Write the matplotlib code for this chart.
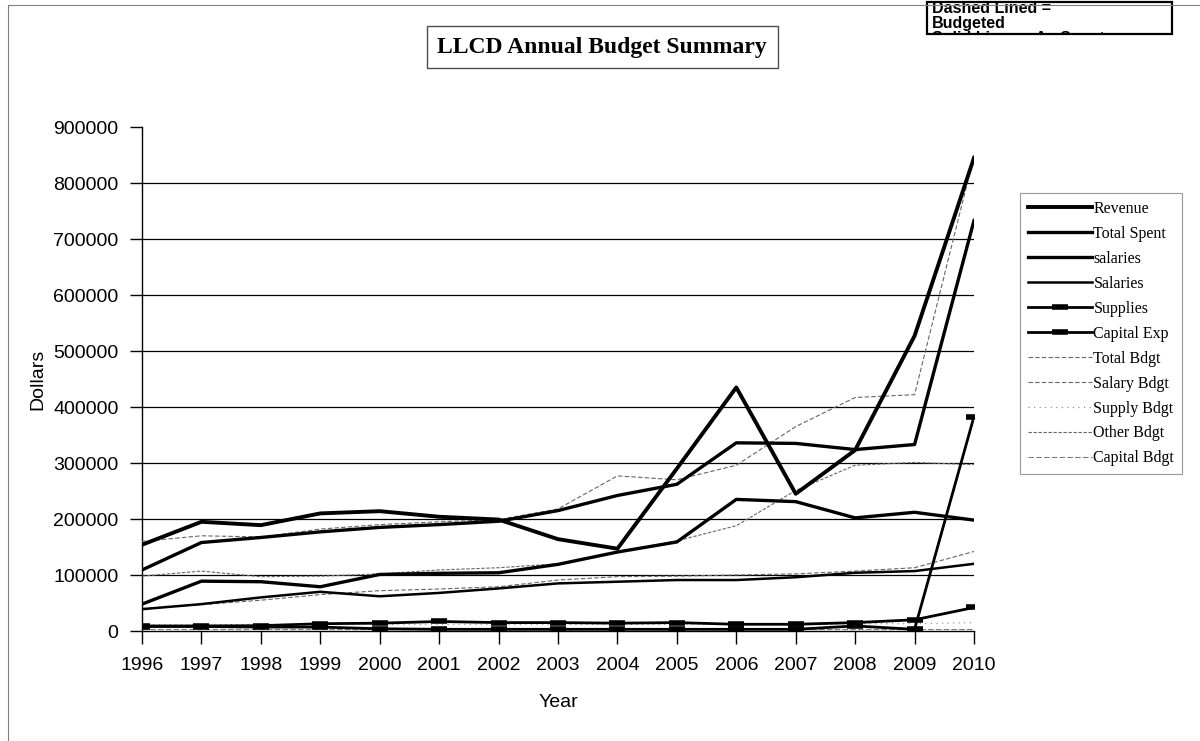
import matplotlib
matplotlib.use('Agg')
import matplotlib.pyplot as plt
from matplotlib.lines import Line2D
from matplotlib.patches import Rectangle

years = list(range(1996, 2011))
revenue = [154000, 195000, 189000, 210000, 214000, 204000, 199000, 164000,
           147000, 290000, 435000, 245000, 323000, 527000, 845000]
total_spent = [109000, 158000, 167000, 177000, 185000, 190000, 196000, 215000,
               242000, 262000, 336000, 335000, 324000, 333000, 733000]
salaries_lc = [48000, 89000, 88000, 79000, 101000, 103000, 104000, 119000,
               141000, 159000, 235000, 231000, 202000, 212000, 198000]
salaries = [39000, 48000, 60000, 70000, 62000, 68000, 76000, 85000,
            88000, 91000, 91000, 96000, 104000, 107000, 120000]
supplies = [9000, 9000, 9500, 13000, 14000, 17000, 15000, 15000,
            14000, 15000, 12000, 12000, 15000, 20000, 42000]
capital_exp = [8000, 8000, 7000, 7000, 4000, 3000, 3000, 3000,
               3000, 3000, 3000, 3000, 9000, 3000, 383000]

total_bdgt = [160000, 170000, 168000, 182000, 190000, 195000, 199000, 218000,
              277000, 270000, 296000, 365000, 417000, 422000, 848000]
salary_bdgt = [40000, 47000, 55000, 65000, 72000, 75000, 79000, 91000,
               97000, 98000, 100000, 102000, 107000, 113000, 142000]
supply_bdgt = [11000, 11000, 12000, 12000, 12000, 12000, 12000, 12000,
               12000, 12000, 12000, 12000, 13000, 13000, 15000]
other_bdgt = [98000, 107000, 97000, 98000, 102000, 109000, 113000, 120000,
              141000, 161000, 188000, 251000, 296000, 301000, 297000]
capital_bdgt = [3000, 3000, 3000, 3000, 3000, 3000, 3000, 3000,
                3000, 3000, 3000, 3000, 3000, 3000, 3000]

yticks = [0, 100000, 200000, 300000, 400000, 500000, 600000, 700000, 800000, 900000]

W, H = 1200, 741
fig = plt.figure(figsize=(12, 7.41), dpi=100)
ax = fig.add_axes([142 / W, 1 - 631 / H, 832 / W, 504 / H])

for v in yticks[1:-1]:
    ax.axhline(v, color='black', lw=0.9, zorder=1)

ax.plot(years, revenue, color='black', lw=2.8, label='Revenue', zorder=5)
ax.plot(years, total_spent, color='black', lw=2.4, label='Total Spent', zorder=5)
ax.plot(years, salaries_lc, color='black', lw=2.4, label='salaries', zorder=5)
ax.plot(years, salaries, color='black', lw=1.8, label='Salaries', zorder=5)
ax.plot(years, supplies, color='black', lw=2.0, marker='_', ms=11, mew=4,
        label='Supplies', zorder=5)
ax.plot(years, capital_exp, color='black', lw=2.0, marker='_', ms=11, mew=4,
        label='Capital Exp', zorder=5)

ax.plot(years, total_bdgt, color='0.4', lw=0.8, ls=(0, (4, 2)), label='Total Bdgt', zorder=4)
ax.plot(years, salary_bdgt, color='0.4', lw=0.8, ls=(0, (4, 2)), label='Salary Bdgt', zorder=4)
ax.plot(years, supply_bdgt, color='0.5', lw=0.8, ls=(0, (1, 4)), label='Supply Bdgt', zorder=4)
ax.plot(years, other_bdgt, color='0.4', lw=0.8, ls=(0, (3, 1.5)), label='Other Bdgt', zorder=4)
ax.plot(years, capital_bdgt, color='0.5', lw=0.8, ls=(0, (5, 2)), label='Capital Bdgt', zorder=4)

ax.set_xlim(1996, 2010)
ax.set_ylim(0, 900000)
ax.set_xticks(years)
ax.set_xticklabels([str(y) for y in years])
ax.set_yticks(yticks)
ax.set_yticklabels([str(v) for v in yticks])
for s in ['top', 'right']:
    ax.spines[s].set_visible(False)
ax.spines['left'].set_linewidth(1)
ax.spines['bottom'].set_linewidth(1)
ax.tick_params(axis='both', direction='out', length=9, width=1, labelsize=14)
ax.tick_params(axis='x', pad=10)
ax.tick_params(axis='y', pad=8)
for lbl in ax.get_xticklabels() + ax.get_yticklabels():
    lbl.set_family('Liberation Sans')
ax.set_xlabel('Year', family='Liberation Sans', fontsize=14, labelpad=14)
ax.set_ylabel('Dollars', family='Liberation Sans', fontsize=14, labelpad=5)

leg = ax.legend(loc='upper left', bbox_to_anchor=(1020 / W, 1 - 193 / H),
                bbox_transform=fig.transFigure, prop={'family': 'Liberation Serif', 'size': 11.5},
                frameon=True, fancybox=False, edgecolor='0.5', handlelength=4.0,
                handletextpad=0.1, labelspacing=0.56, borderpad=0.5, borderaxespad=0)
leg.get_frame().set_linewidth(0.8)

fig.text(602 / W, 1 - 47 / H, 'LLCD Annual Budget Summary', ha='center', va='center',
         family='Liberation Serif', fontweight='bold', fontsize=17,
         bbox=dict(boxstyle='square,pad=0.45', fc='white', ec='0.3', lw=1))

# note box in the top right corner, last line cut at the bottom edge
nb = fig.add_axes([927 / W, 1 - 34 / H, 245 / W, 32 / H])
nb.set_axis_off()
nb.add_patch(Rectangle((0, 0), 1, 1, transform=nb.transAxes, fill=False,
                       ec='black', lw=1.6, clip_on=False))
for txt, yy in [('Dashed Lined =', 0.80), ('Budgeted', 0.33), ('Solid Lines = As Spent', -0.14)]:
    t = nb.text(0.02, yy, txt, transform=nb.transAxes, ha='left', va='center',
                family='Liberation Sans', fontweight='bold', fontsize=11.5)
    t.set_clip_on(True)

# chart area border
fig.add_artist(Line2D([8 / W, 8 / W], [0, 1 - 5 / H], color='0.5', lw=0.8))
fig.add_artist(Line2D([8 / W, 1], [1 - 5 / H, 1 - 5 / H], color='0.5', lw=0.8))

fig.savefig('out.png', dpi=100)
